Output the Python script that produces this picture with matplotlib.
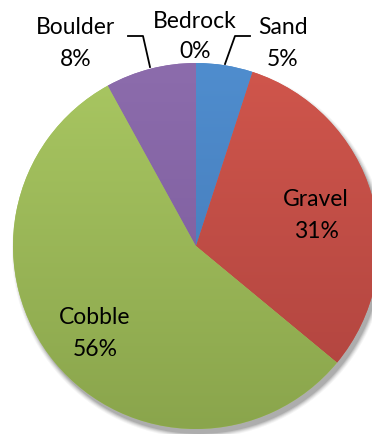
import numpy as np
import matplotlib
matplotlib.use("Agg")
import matplotlib.pyplot as plt
from matplotlib.colors import LinearSegmentedColormap
from matplotlib.patches import Circle

categories = ["Sand", "Gravel", "Cobble", "Boulder", "Bedrock"]
values = [5, 31, 56, 8, 0]
pct_labels = ["5%", "31%", "56%", "8%", "0%"]

top_colors = ["#4F8DCE", "#D0564C", "#A9C762", "#8C6CAC", "#8C6CAC"]
bot_colors = ["#4376B3", "#AE433E", "#8AA54C", "#79599A", "#79599A"]

W, H = 372, 435
fig = plt.figure(figsize=(W / 100, H / 100), dpi=100)
ax = fig.add_axes([0, 0, 1, 1])

cx, cy, r = 196, H - 247, 183

# soft shadow
for i, a in enumerate([0.04, 0.05, 0.07, 0.09, 0.11]):
    ax.add_patch(Circle((cx + 3, cy - 5), r + 4 - i, color="black", alpha=a, lw=0, zorder=0))

wedges, _ = ax.pie(values, startangle=90, counterclock=False, center=(cx, cy),
                   radius=r, colors=top_colors, frame=True,
                   wedgeprops=dict(linewidth=0))
ax.set_xlim(0, W)
ax.set_ylim(0, H)
ax.set_aspect("equal")
ax.axis("off")

grad = np.linspace(1, 0, 256).reshape(-1, 1)
for w, tc, bc in zip(wedges, top_colors, bot_colors):
    cmap = LinearSegmentedColormap.from_list("g", [bc, tc])
    im = ax.imshow(grad, cmap=cmap, extent=(cx - r, cx + r, cy - r, cy + r),
                   aspect="auto", origin="upper", zorder=2, vmin=0, vmax=1)
    im.set_clip_path(w)

font = dict(family="Lato", fontsize=16.5, color="black", ha="center", va="center", zorder=5)

label_pos = {"Sand": (283, 28, 60), "Gravel": (316, 200, 232), "Cobble": (95, 318, 350),
             "Boulder": (76, 28, 60), "Bedrock": (195, 21, 52)}
for cat, pct in zip(categories, pct_labels):
    x, y1, y2 = label_pos[cat]
    ax.text(x, H - y1, cat, **font)
    ax.text(x, H - y2, pct, **font)

# leader lines
ax.plot([128, 143, 150], [H - 37, H - 37, H - 68], color="black", lw=1.3, zorder=6)
ax.plot([250, 235, 225], [H - 37, H - 37, H - 65], color="black", lw=1.3, zorder=6)

fig.savefig("out.png", dpi=100)
